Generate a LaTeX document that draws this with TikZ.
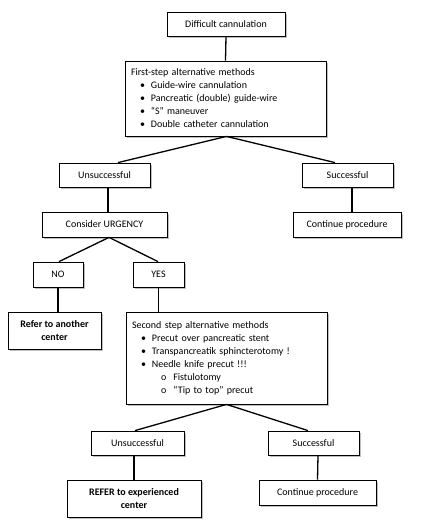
\documentclass[tikz,border=0pt]{standalone}
\usepackage{fontspec}
\setmainfont{Carlito}
\usetikzlibrary{shadows}
\begin{document}
\begin{tikzpicture}[x=1pt,y=-1pt]
\tikzset{
  box/.style={draw, line width=0.8pt, fill=white,
    drop shadow={shadow xshift=1.6pt, shadow yshift=-1.6pt, fill=black!25, opacity=1},
    font=\fontsize{10}{13}\selectfont, inner sep=0pt, align=center},
  listbox/.style={box, align=left, inner xsep=6pt},
  boldbox/.style={box, font=\fontsize{10}{13}\selectfont\bfseries},
  link/.style={line width=1.3pt},
}
\useasboundingbox (0,0) rectangle (432,529);

\node[box, minimum width=118pt, minimum height=24pt] (b1) at (226,24) {Difficult cannulation};
\node[listbox, text width=189pt, minimum height=75pt] (b2) at (225.5,98.5)
  {First-step alternative methods\\
   \hspace*{9pt}•\hspace{6pt}Guide-wire cannulation\\
   \hspace*{9pt}•\hspace{6pt}Pancreatic (double) guide-wire\\
   \hspace*{9pt}•\hspace{6pt}“S” maneuver\\
   \hspace*{9pt}•\hspace{6pt}Double catheter  cannulation};
\node[box, minimum width=91pt, minimum height=24pt] (uns1) at (104.5,175) {Unsuccessful};
\node[box, minimum width=91pt, minimum height=24pt] (suc1) at (347.5,175) {Successful};
\node[box, minimum width=125pt, minimum height=25pt] (urg) at (104.5,224.5) {Consider URGENCY};
\node[box, minimum width=108pt, minimum height=25pt] (cont1) at (347,224.5) {Continue procedure};
\node[box, minimum width=50pt, minimum height=25pt] (no) at (58,274.5) {NO};
\node[box, minimum width=51pt, minimum height=25pt] (yes) at (158.5,274.5) {YES};
\node[boldbox, minimum width=93pt, minimum height=37pt] (ref1) at (54.5,330.5) {Refer to another\\center};
\node[listbox, text width=189pt, minimum height=92pt] (sec) at (226.5,358)
  {Second step alternative methods\\
   \hspace*{9pt}•\hspace{6pt}Precut over pancreatic  stent\\
   \hspace*{9pt}•\hspace{6pt}Transpancreatik sphincterotomy  !\\
   \hspace*{9pt}•\hspace{6pt}Needle knife precut !!!\\
   \hspace*{29pt}o\hspace{7pt}Fistulotomy\\
   \hspace*{29pt}o\hspace{7pt}“Tip to top”  precut};
\node[box, minimum width=93pt, minimum height=24pt] (uns2) at (137.5,443) {Unsuccessful};
\node[box, minimum width=91pt, minimum height=24pt] (suc2) at (313.5,443) {Successful};
\node[boldbox, minimum width=134pt, minimum height=37pt] (ref2) at (134,498.5) {REFER to experienced\\center};
\node[box, minimum width=117pt, minimum height=25pt] (cont2) at (317.5,492.5) {Continue procedure};

\draw[link] (b1.south) -- (b2.north);
\draw[link] ([xshift=1pt]b2.south) -- ([xshift=13.5pt]uns1.north);
\draw[link] ([xshift=1pt]b2.south) -- ([xshift=-12.5pt]suc1.north);
\draw[link] ([xshift=3.5pt]uns1.south) -- ([xshift=3.5pt]urg.north);
\draw[link] ([xshift=4.5pt]suc1.south) -- ([xshift=5pt]cont1.north);
\draw[link] ([xshift=4.5pt]urg.south) -- ([xshift=1pt]no.north);
\draw[link] ([xshift=4.5pt]urg.south) -- ([xshift=-0.5pt]yes.north);
\draw[link] (no.south) -- (no.south |- ref1.north);
\draw[link] (yes.south) -- (yes.south |- sec.north);
\draw[link] (sec.south) -- ([xshift=-2.5pt]uns2.north);
\draw[link] (sec.south) -- ([xshift=-5.5pt]suc2.north);
\draw[link] ([xshift=-3.5pt]uns2.south) -- (ref2.north);
\draw[link] ([xshift=4.5pt]suc2.south) -- (cont2.north);
\end{tikzpicture}
\end{document}
